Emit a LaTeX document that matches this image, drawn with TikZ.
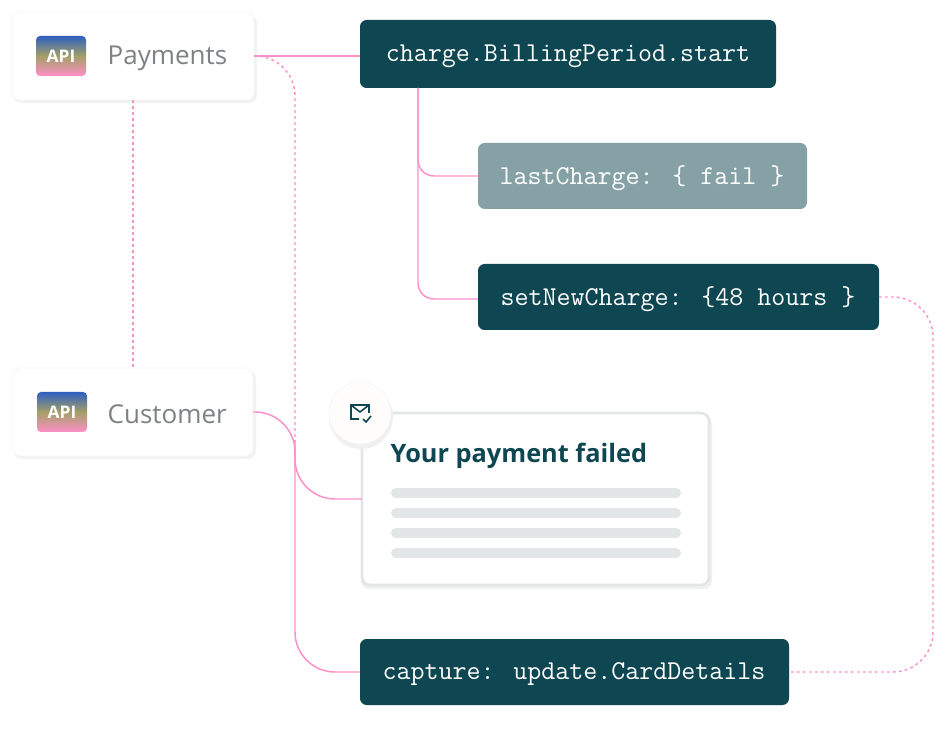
\documentclass[tikz,border=0pt]{standalone}
\usepackage{fontspec}
\setmainfont{Open Sans}
\usetikzlibrary{positioning}

\definecolor{deepteal}{HTML}{0E4752}
\definecolor{slate}{HTML}{86A1A6}
\definecolor{pinkline}{HTML}{FF8FC8}
\definecolor{labelgray}{HTML}{7C8283}
\definecolor{barcol}{HTML}{E3E6E6}
\definecolor{apiblue}{HTML}{2F5FC0}
\definecolor{apiolive}{HTML}{A3A068}
\definecolor{apipink}{HTML}{FF8FC8}

\tikzset{
  card/.style={fill=white, rounded corners=6pt, draw=black!4},
  codebox/.style={fill=deepteal, rounded corners=5pt},
  codetext/.style={text=white, font=\ttfamily\fontsize{20.4}{22}\selectfont},
  wire/.style={draw=pinkline, line width=1.1pt},
  dotwire/.style={wire, dash pattern=on 2pt off 2.5pt},
  label/.style={text=labelgray, font=\fontsize{19.5}{22}\selectfont, anchor=west},
}

\newcommand{\apiicon}[2]{%
  \shade[rounded corners=3pt, top color=apiblue, bottom color=apipink, middle color=apiolive] (#1,#2) rectangle ++(50,40);
  \node[text=white, font=\bfseries\fontsize{13}{13}\selectfont] at (#1+25,#2+20) {API};}

\begin{document}
\begin{tikzpicture}[x=0.75pt, y=-0.75pt]
  \useasboundingbox[fill=white] (0,0) rectangle (935,730);
  % API cards
  \fill[black!5, rounded corners=6pt] (13,15) rectangle (257,103);
  \path[card] (12,12) rectangle (254,100);
  \apiicon{36}{36}
  \node[label] (paytxt) at (103,58) {Payments};
  \coordinate (pay) at (254,56);
  \fill[black!5, rounded corners=6pt] (14,371) rectangle (256,459);
  \path[card] (13,368) rectangle (253,456);
  \apiicon{37}{392}
  \node[label] (custtxt) at (103,414) {Customer};
  \coordinate (cust) at (253,412);
  \coordinate (paybot) at (133,100);
  \coordinate (custtop) at (133,368);
  % code boxes
  \path[codebox] (360,20) rectangle (776,88);
  \node[codetext] (charge) at (568,56) {charge.BillingPeriod.start};
  \path[codebox, fill=slate] (478,143) rectangle (807,209);
  \node[codetext] (last) at (642,178) {lastCharge: \{ fail \}};
  \path[codebox] (478,264) rectangle (879,330);
  \node[codetext] (setc) at (678,299) {setNewCharge: \{48 hours \}};
  \path[codebox] (360,639) rectangle (789,705);
  \node[codetext] (cap) at (574,674) {capture: update.CardDetails};
  \coordinate (chargew) at (360,56);
  \coordinate (lastw) at (478,176);
  \coordinate (setw) at (478,299);
  \coordinate (sete) at (879,297);
  \coordinate (capw) at (360,672);
  \coordinate (cape) at (789,672);
  \coordinate (trunk) at (418,88);
  % mail card
  \fill[black!6, rounded corners=6pt] (361,416) rectangle (712,589);
  \draw[fill=white, draw=barcol, line width=2pt, rounded corners=6pt] (362,413) rectangle (709,585);
  \coordinate (mailw) at (362,499);
  \node[text=deepteal, font=\fontsize{19}{22}\selectfont\bfseries, anchor=west] (title) at (386,456) {Your payment failed};
  \foreach \yb in {493,513,533,553}
    \draw[barcol, line width=7.5pt, line cap=round] (396,\yb) -- (676,\yb);
  \fill[black!6] (361,417) circle[radius=32];
  \draw[fill=white!96!pink, draw=black!4] (360,413) circle[radius=31];
  \draw[deepteal, line width=1.2pt] (359,419) -| (351,405) -- (369,405) -- (369,413)
    (351,405) -- (360,412) -- (369,405);
  \draw[deepteal, line width=1.2pt] (363,419) -- (366,422) -- (371,416);
  % connectors
  \draw[wire] (pay) -- (chargew);
  \draw[wire, rounded corners=12pt] (trunk) |- (lastw);
  \draw[wire, rounded corners=12pt] (trunk) |- (setw);
  \draw[dotwire] (paybot) -- (custtop);
  \draw[dotwire, rounded corners=30pt] (pay) -| (295,470);
  \draw[dotwire, rounded corners=30pt] (sete) -| (933,672) -- (cape);
  \draw[wire, rounded corners=30pt] (cust) -| (295,672) -- (capw);
  \draw[wire, rounded corners=30pt] (295,440) |- (mailw);
\end{tikzpicture}
\end{document}
